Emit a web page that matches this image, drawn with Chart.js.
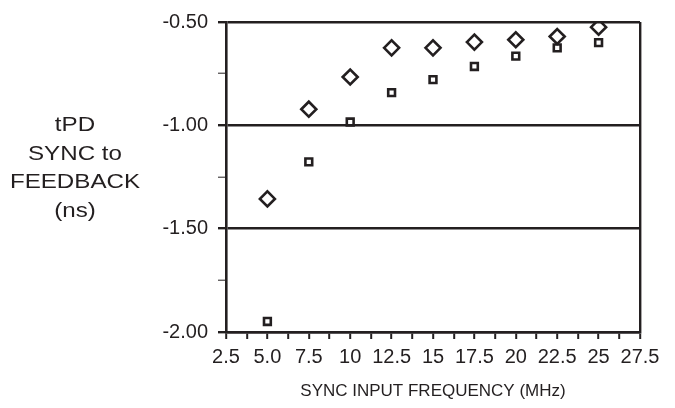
<!DOCTYPE html>
<html>
<head>
<meta charset="utf-8">
<script src="https://cdn.jsdelivr.net/npm/chart.js@4"></script>
<style>
  html, body { margin: 0; padding: 0; background: #fff; }
  #wrap { position: relative; width: 675px; height: 408px; }
  #yTitle {
    position: absolute; left: 0; top: 110px; width: 150px;
    font-family: "Liberation Sans", Arial, sans-serif; font-size: 21px;
    line-height: 28.5px; color: #231f20; text-align: center;
    transform: scaleX(1.15); transform-origin: 75px 0;
  }
</style>
</head>
<body>
<div id="wrap">
  <canvas id="chart" width="675" height="408"></canvas>
  <div id="yTitle">tPD<br>SYNC to<br>FEEDBACK<br>(ns)</div>
</div>
<script>
// ค่าที่อ่านจากกราฟ (ns)
const freqs = [5, 7.5, 10, 12.5, 15, 17.5, 20, 22.5, 25];
const diamondVals = [-1.356, -0.922, -0.766, -0.625, -0.625, -0.597, -0.586, -0.570, -0.525];
const squareVals = [-1.949, -1.177, -0.984, -0.842, -0.779, -0.715, -0.665, -0.625, -0.600];
const xTickLabels = ['2.5', '5.0', '7.5', '10', '12.5', '15', '17.5', '20', '22.5', '25', '27.5'];
const yTickLabels = ['-2.00', '-1.50', '-1.00', '-0.50'];
const xTitle = 'SYNC INPUT FREQUENCY (MHz)';

const ink = '#231f20';
const font = 'Liberation Sans, Arial, sans-serif';

function toPoints(vals) {
  return freqs.map((f, i) => ({ x: f, y: vals[i] }));
}

const isMajorY = v => Math.abs(v * 2 - Math.round(v * 2)) < 1e-6;

new Chart(document.getElementById('chart').getContext('2d'), {
  type: 'scatter',
  data: {
    datasets: [
      {
        data: toPoints(diamondVals),
        pointStyle: 'rectRot', pointRadius: 7.5,
        borderColor: ink, backgroundColor: 'transparent', borderWidth: 2.6
      },
      {
        data: toPoints(squareVals),
        pointStyle: 'rect', pointRadius: 4.8,
        borderColor: ink, backgroundColor: 'transparent', borderWidth: 2.6
      }
    ]
  },
  options: {
    responsive: false,
    animation: false,
    devicePixelRatio: 1,
    layout: { padding: { left: 140, right: 35, top: 21, bottom: 0 } },
    plugins: { legend: { display: false }, tooltip: { enabled: false } },
    scales: {
      x: {
        min: 2.5, max: 27.5,
        afterFit: s => { s.height = 76; },
        ticks: {
          stepSize: 1.25, autoSkip: false, maxRotation: 0, padding: 6,
          color: ink, font: { family: font, size: 20 },
          callback: (v, i) => (i % 2 === 0 ? xTickLabels[i / 2] : '')
        },
        grid: {
          color: c => (c.tick && c.tick.value === 27.5 ? ink : 'transparent'),
          lineWidth: 2.4, tickLength: 7, tickColor: ink, tickWidth: 2
        },
        border: { color: ink, width: 2.6 },
        title: {
          display: true, text: xTitle, color: ink,
          font: { family: font, size: 17 }, padding: { top: 0, bottom: 6 }
        }
      },
      y: {
        min: -2, max: -0.5,
        afterFit: s => { s.width = 86; },
        ticks: {
          stepSize: 0.25, padding: 10, color: ink,
          font: { family: font, size: 20 },
          callback: v => (isMajorY(v) ? yTickLabels[Math.round((v + 2) * 2)] : '')
        },
        grid: {
          color: c => (c.tick && isMajorY(c.tick.value) ? ink : 'transparent'),
          lineWidth: 2.4, tickLength: 8, tickColor: ink,
          tickWidth: c => (c.tick && isMajorY(c.tick.value) ? 2.4 : 1)
        },
        border: { color: ink, width: 2.6 }
      }
    }
  }
});
</script>
</body>
</html>
